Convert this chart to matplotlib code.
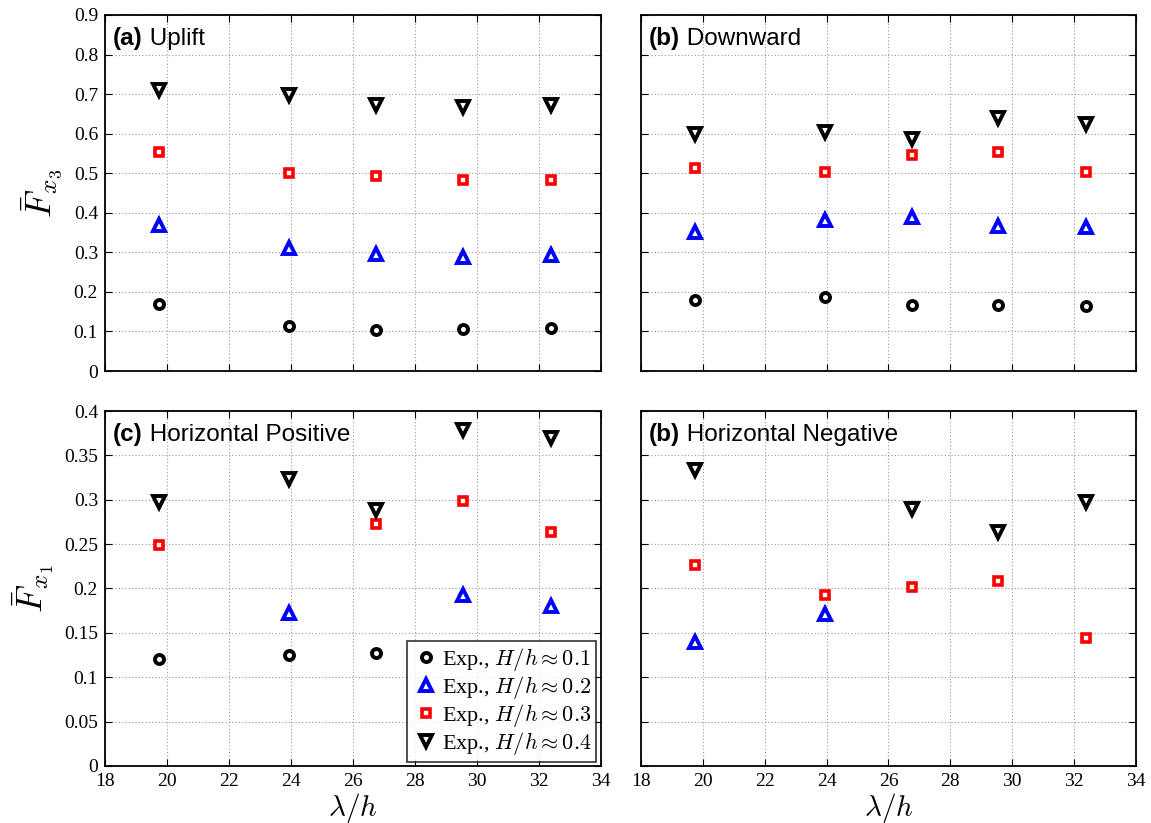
import numpy as np
import matplotlib.pyplot as plt

plt.rcParams['font.family'] = 'serif'
plt.rcParams['font.serif'] = ['Liberation Serif', 'DejaVu Serif']
plt.rcParams['mathtext.fontset'] = 'cm'

# wavelength ratio lambda/h for the five test cases
lam = [19.75, 23.95, 26.75, 29.55, 32.4]

# (a) uplift, F_x3
up_h1 = [0.170, 0.115, 0.103, 0.107, 0.108]
up_h2 = [0.370, 0.310, 0.295, 0.288, 0.292]
up_h3 = [0.553, 0.500, 0.492, 0.482, 0.483]
up_h4 = [0.710, 0.698, 0.672, 0.667, 0.673]

# (b) downward, F_x3
dn_h1 = [0.180, 0.186, 0.167, 0.168, 0.164]
dn_h2 = [0.352, 0.381, 0.389, 0.367, 0.365]
dn_h3 = [0.512, 0.504, 0.545, 0.553, 0.504]
dn_h4 = [0.600, 0.603, 0.587, 0.640, 0.625]

# (c) horizontal positive, F_x1 (missing cases left out)
hp_h1_x, hp_h1 = [19.75, 23.95, 26.75], [0.120, 0.125, 0.127]
hp_h2_x, hp_h2 = [23.95, 29.55, 32.4], [0.172, 0.193, 0.180]
hp_h3_x, hp_h3 = [19.75, 26.75, 29.55, 32.4], [0.249, 0.273, 0.299, 0.264]
hp_h4_x, hp_h4 = lam, [0.298, 0.323, 0.288, 0.379, 0.370]

# (d) horizontal negative, F_x1
hn_h2_x, hn_h2 = [19.75, 23.95], [0.140, 0.171]
hn_h3_x, hn_h3 = lam, [0.227, 0.193, 0.202, 0.208, 0.144]
hn_h4_x, hn_h4 = [19.75, 26.75, 29.55, 32.4], [0.333, 0.290, 0.264, 0.298]

labels = [r'Exp., $H/h \approx 0.1$', r'Exp., $H/h \approx 0.2$',
          r'Exp., $H/h \approx 0.3$', r'Exp., $H/h \approx 0.4$']
styles = [dict(marker='o', color='black', ms=6.5, mew=2.8),
          dict(marker='^', color='blue', ms=8.5, mew=2.8),
          dict(marker='s', color='red', ms=5.5, mew=2.6),
          dict(marker='v', color='black', ms=8.5, mew=2.8)]

fig = plt.figure(figsize=(11.51, 8.23), dpi=100)
ax_a = fig.add_axes([0.0912, 0.5492, 0.4309, 0.4326])
ax_b = fig.add_axes([0.5569, 0.5492, 0.4300, 0.4326])
ax_c = fig.add_axes([0.0912, 0.0693, 0.4309, 0.4313])
ax_d = fig.add_axes([0.5569, 0.0693, 0.4300, 0.4313])


def draw(ax, series):
    for (xs, ys), st, lab in zip(series, styles, labels):
        if xs is None:
            continue
        ax.plot(xs, ys, linestyle='none', marker=st['marker'], markersize=st['ms'],
                markerfacecolor='white', markeredgecolor=st['color'],
                markeredgewidth=st['mew'], label=lab)


draw(ax_a, [(lam, up_h1), (lam, up_h2), (lam, up_h3), (lam, up_h4)])
draw(ax_b, [(lam, dn_h1), (lam, dn_h2), (lam, dn_h3), (lam, dn_h4)])
draw(ax_c, [(hp_h1_x, hp_h1), (hp_h2_x, hp_h2), (hp_h3_x, hp_h3), (hp_h4_x, hp_h4)])
draw(ax_d, [(None, None), (hn_h2_x, hn_h2), (hn_h3_x, hn_h3), (hn_h4_x, hn_h4)])

for ax in (ax_a, ax_b, ax_c, ax_d):
    ax.set_xlim(18, 34)
    ax.set_xticks(np.arange(18, 35, 2))
    ax.grid(True, linestyle=(0, (1, 2)), color='#999999', linewidth=0.8)
    ax.tick_params(direction='in', top=True, right=True, length=5,
                   labelsize=14, pad=5)
    for sp in ax.spines.values():
        sp.set_linewidth(1.3)

for ax in (ax_a, ax_b):
    ax.set_ylim(0, 0.9)
    ax.set_yticks(np.arange(0, 0.91, 0.1))
    ax.set_yticklabels(['0'] + ['%.1f' % v for v in np.arange(0.1, 0.91, 0.1)])
    ax.tick_params(labelbottom=False)

for ax in (ax_c, ax_d):
    ax.set_ylim(0, 0.4)
    ax.set_yticks(np.arange(0, 0.41, 0.05))
    ax.set_yticklabels(['0', '0.05', '0.1', '0.15', '0.2', '0.25', '0.3', '0.35', '0.4'])
    ax.set_xlabel(r'$\lambda/h$', fontsize=21, labelpad=1)

ax_b.tick_params(labelleft=False)
ax_d.tick_params(labelleft=False)

ax_a.set_ylabel(r'$\bar{F}_{x_3}$', fontsize=26, labelpad=6)
ax_c.set_ylabel(r'$\bar{F}_{x_1}$', fontsize=26, labelpad=6)

panel_titles = [(ax_a, '(a)', 'Uplift'), (ax_b, '(b)', 'Downward'),
                (ax_c, '(c)', 'Horizontal Positive'), (ax_d, '(b)', 'Horizontal Negative')]
for ax, tag, name in panel_titles:
    t = ax.text(0.016, 0.965, tag, transform=ax.transAxes, ha='left', va='top',
                fontsize=17.5, fontweight='bold', family='Liberation Sans')
    ax.annotate(' ' + name, xycoords=t, xy=(1, 0), va='bottom', ha='left',
                fontsize=17.5, family='Liberation Sans')

leg = ax_c.legend(loc='lower right', fontsize=16, frameon=True, fancybox=False,
                  borderaxespad=0.2, handletextpad=0.1, labelspacing=0.05,
                  borderpad=0.2, handlelength=1.3)
leg.get_frame().set_edgecolor('black')
leg.get_frame().set_linewidth(1.2)

fig.savefig('out.png', dpi=100)
